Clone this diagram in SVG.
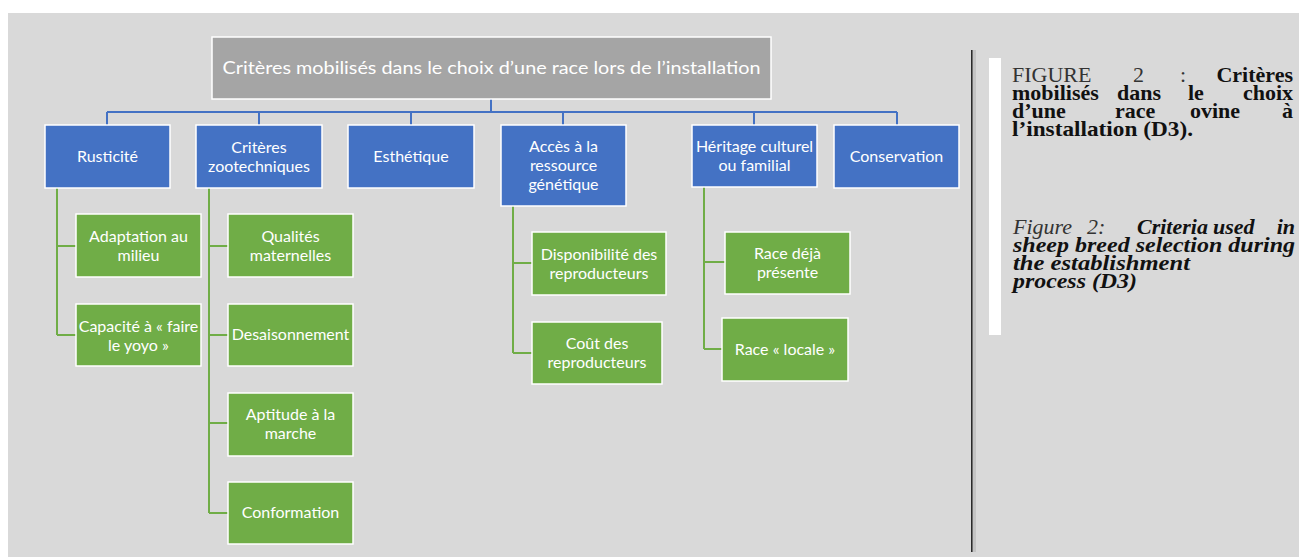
<svg xmlns="http://www.w3.org/2000/svg" width="1299" height="557" viewBox="0 0 1299 557">
<style>
.bg{fill:#d9d9d9}
.root{fill:#a5a5a5;stroke:#ffffff;stroke-width:1.5}
.blue{fill:#4472c4;stroke:#ffffff;stroke-width:1.5}
.green{fill:#70ad47;stroke:#ffffff;stroke-width:1.5}
.t{font-family:Lato,"Open Sans",sans-serif;font-size:16px;fill:#ffffff;text-anchor:middle}
.rt{font-family:Lato,"Open Sans",sans-serif;font-size:18px;fill:#ffffff;text-anchor:middle}
.cb{fill:none;stroke:#4472c4;stroke-width:2}
.cg{fill:none;stroke:#70ad47;stroke-width:2}
.cap{font-family:"Liberation Serif",serif;font-size:22px;fill:#111111}
.b{font-weight:bold}
.i{font-style:italic}
</style>
<rect x="0" y="0" width="1299" height="557" fill="#ffffff"/>
<rect class="bg" x="8" y="13" width="1291" height="544"/>

<g id="connectors">
<path class="cb" d="M491,99 V112 M107,112 H897 M107,112 V125 M259,112 V125 M411,112 V125 M563,112 V125 M754,112 V125 M897,112 V125"/>
<path class="cg" d="M57,188 V335 M57,246 H76 M57,335 H76"/>
<path class="cg" d="M209,188 V513 M209,246 H228 M209,335 H228 M209,423 H228 M209,513 H228"/>
<path class="cg" d="M513,206 V353 M513,263 H532 M513,353 H532"/>
<path class="cg" d="M704,187 V349 M704,262 H725 M704,349 H722"/>
</g>

<g id="root">
<rect class="root" x="212" y="37" width="559" height="62"/>
<text class="rt" x="491.5" y="74" textLength="538" lengthAdjust="spacingAndGlyphs">Critères mobilisés dans le choix d’une race lors de l’installation</text>
</g>

<g id="rusticite">
<rect class="blue" x="45" y="125" width="125" height="63"/>
<text class="t" x="107.5" y="162">Rusticité</text>
</g>
<g id="zootechniques">
<rect class="blue" x="196" y="125" width="126" height="63"/>
<text class="t" x="259" y="153">Critères</text>
<text class="t" x="259" y="172">zootechniques</text>
</g>
<g id="esthetique">
<rect class="blue" x="348" y="125" width="126" height="63"/>
<text class="t" x="411" y="162">Esthétique</text>
</g>
<g id="acces">
<rect class="blue" x="501" y="125" width="125" height="81"/>
<text class="t" x="563.5" y="152">Accès à la</text>
<text class="t" x="563.5" y="171">ressource</text>
<text class="t" x="563.5" y="190">génétique</text>
</g>
<g id="heritage">
<rect class="blue" x="692" y="125" width="125" height="62"/>
<text class="t" x="754.5" y="152">Héritage culturel</text>
<text class="t" x="754.5" y="171">ou familial</text>
</g>
<g id="conservation">
<rect class="blue" x="834" y="125" width="125" height="63"/>
<text class="t" x="896.5" y="162">Conservation</text>
</g>

<g id="adaptation">
<rect class="green" x="76" y="214" width="125" height="63"/>
<text class="t" x="138.5" y="242">Adaptation au</text>
<text class="t" x="138.5" y="261">milieu</text>
</g>
<g id="capacite">
<rect class="green" x="76" y="304" width="125" height="62"/>
<text class="t" x="138.5" y="332">Capacité à « faire</text>
<text class="t" x="138.5" y="351">le yoyo »</text>
</g>
<g id="qualites">
<rect class="green" x="228" y="214" width="125" height="63"/>
<text class="t" x="290.5" y="242">Qualités</text>
<text class="t" x="290.5" y="261">maternelles</text>
</g>
<g id="desaisonnement">
<rect class="green" x="228" y="304" width="125" height="62"/>
<text class="t" x="290.5" y="340">Desaisonnement</text>
</g>
<g id="aptitude">
<rect class="green" x="228" y="393" width="125" height="63"/>
<text class="t" x="290.5" y="420">Aptitude à la</text>
<text class="t" x="290.5" y="439">marche</text>
</g>
<g id="conformation">
<rect class="green" x="228" y="482" width="125" height="62"/>
<text class="t" x="290.5" y="518">Conformation</text>
</g>
<g id="disponibilite">
<rect class="green" x="532" y="232" width="134" height="63"/>
<text class="t" x="599" y="260">Disponibilité des</text>
<text class="t" x="599" y="279">reproducteurs</text>
</g>
<g id="cout">
<rect class="green" x="532" y="322" width="130" height="62"/>
<text class="t" x="597" y="349">Coût des</text>
<text class="t" x="597" y="368">reproducteurs</text>
</g>
<g id="race-deja">
<rect class="green" x="725" y="232" width="125" height="62"/>
<text class="t" x="787.5" y="259">Race déjà</text>
<text class="t" x="787.5" y="278">présente</text>
</g>
<g id="race-locale">
<rect class="green" x="722" y="318" width="126" height="63"/>
<text class="t" x="785" y="355">Race « locale »</text>
</g>

<g id="separator">
<rect x="973" y="50" width="3" height="502" fill="#c4c4c4"/>
<rect x="971" y="50" width="1.6" height="502" fill="#2a2a2a"/>
</g>

<g id="caption">
<rect x="989" y="58" width="12" height="277" fill="#ffffff"/>
<text class="cap" y="82"><tspan x="1012" fill="#333333">FIGURE</tspan><tspan x="1133" fill="#333333">2</tspan><tspan x="1180" fill="#333333">:</tspan><tspan class="b" x="1293" text-anchor="end">Critères</tspan></text>
<text class="cap b" y="100"><tspan x="1012">mobilisés</tspan><tspan x="1117">dans</tspan><tspan x="1188">le</tspan><tspan x="1293" text-anchor="end">choix</tspan></text>
<text class="cap b" y="118"><tspan x="1012">d’une</tspan><tspan x="1115">race</tspan><tspan x="1190">ovine</tspan><tspan x="1293" text-anchor="end">à</tspan></text>
<text class="cap b" x="1012" y="136" textLength="181" lengthAdjust="spacingAndGlyphs">l’installation (D3).</text>

<text class="cap i" y="234"><tspan x="1013" fill="#333333">Figure</tspan><tspan x="1087" fill="#333333">2:</tspan><tspan class="b" x="1137">Criteria</tspan><tspan class="b" x="1213">used</tspan><tspan class="b" x="1295" text-anchor="end">in</tspan></text>
<text class="cap i b" x="1013" y="252" textLength="282" lengthAdjust="spacingAndGlyphs">sheep breed selection during</text>
<text class="cap i b" x="1013" y="270" textLength="177" lengthAdjust="spacingAndGlyphs">the establishment</text>
<text class="cap i b" x="1013" y="288" textLength="124" lengthAdjust="spacingAndGlyphs">process (D3)</text>
</g>
</svg>
